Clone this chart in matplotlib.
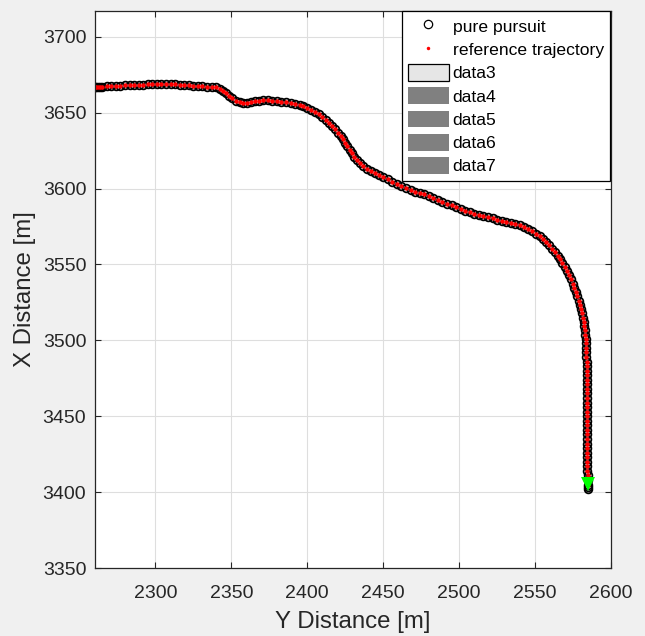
import matplotlib.pyplot as plt
from matplotlib.patches import Patch
from matplotlib.lines import Line2D

# reference trajectory (horizontal axis = Y distance, vertical axis = X distance)
ref_y = [2260.0, 2261.0, 2262.0, 2263.5, 2265.0, 2268.0, 2271.0, 2274.0, 2277.0, 2280.0,
         2283.0, 2286.0, 2289.0, 2292.0, 2295.0, 2298.0, 2301.0, 2304.0, 2307.0, 2310.0,
         2313.0, 2316.0, 2319.0, 2322.0, 2325.0, 2328.0, 2331.0, 2334.0, 2337.0, 2340.0,
         2342.5, 2344.5, 2346.5, 2348.5, 2350.5, 2353.0, 2355.5, 2358.0, 2360.5, 2363.0,
         2365.5, 2368.0, 2371.0, 2374.0, 2377.0, 2380.0, 2383.0, 2386.0, 2389.0, 2392.0,
         2395.0, 2397.5, 2400.0, 2402.5, 2405.0, 2407.5, 2410.0, 2412.5, 2414.5, 2416.5,
         2418.5, 2420.5, 2422.0, 2423.5, 2425.0, 2426.5, 2428.0, 2429.5, 2431.0, 2433.0,
         2435.0, 2437.0, 2439.5, 2442.0, 2444.5, 2447.0, 2450.0, 2453.0, 2456.0, 2459.0,
         2462.0, 2465.0, 2468.0, 2471.0, 2474.0, 2477.0, 2480.0, 2483.0, 2486.0, 2489.0,
         2492.0, 2495.0, 2498.0, 2501.0, 2504.0, 2507.0, 2510.0, 2513.0, 2516.0, 2519.0,
         2522.0, 2525.0, 2528.0, 2531.0, 2534.0, 2537.0, 2540.0, 2543.0, 2545.5, 2548.0,
         2550.5, 2553.0, 2555.0, 2557.0, 2559.0, 2561.0, 2563.0, 2565.0, 2566.5, 2568.0,
         2569.5, 2571.0, 2572.3, 2573.5, 2574.7, 2575.8, 2576.8, 2577.8, 2578.7, 2579.5,
         2580.3, 2581.0, 2581.6, 2582.1, 2582.5, 2582.9, 2583.2, 2583.4, 2583.5, 2583.6,
         2583.7, 2583.8, 2583.9, 2584.0, 2584.0, 2584.0, 2584.0, 2584.1, 2584.1, 2584.1,
         2584.1, 2584.2, 2584.2, 2584.2, 2584.2, 2584.3, 2584.3, 2584.3, 2584.3, 2584.4,
         2584.4, 2584.4, 2584.4, 2584.5, 2584.5, 2584.5, 2584.5, 2584.6, 2584.6, 2584.6]
ref_x = [3667.0, 3667.0, 3667.0, 3667.1, 3667.2, 3667.3, 3667.5, 3667.6, 3667.8, 3668.0,
         3668.1, 3668.3, 3668.4, 3668.5, 3668.6, 3668.7, 3668.8, 3668.8, 3668.8, 3668.7,
         3668.6, 3668.4, 3668.2, 3668.0, 3667.8, 3667.6, 3667.4, 3667.2, 3667.0, 3666.6,
         3665.8, 3664.5, 3662.8, 3661.0, 3659.4, 3658.0, 3657.0, 3656.5, 3656.4, 3656.8,
         3657.4, 3657.9, 3658.1, 3658.1, 3657.9, 3657.6, 3657.3, 3657.0, 3656.6, 3656.0,
         3655.2, 3654.3, 3653.2, 3652.0, 3650.6, 3649.0, 3647.2, 3645.2, 3643.4, 3641.4,
         3639.2, 3636.8, 3634.8, 3632.6, 3630.2, 3627.8, 3625.4, 3623.2, 3621.0, 3618.6,
         3616.6, 3614.8, 3613.0, 3611.4, 3610.0, 3608.8, 3607.4, 3606.0, 3604.6, 3603.2,
         3601.8, 3600.5, 3599.2, 3598.0, 3597.0, 3596.1, 3595.3, 3594.0, 3592.7, 3591.4,
         3590.1, 3588.9, 3587.7, 3586.6, 3585.5, 3584.5, 3583.5, 3582.6, 3581.8, 3581.0,
         3580.3, 3579.6, 3578.9, 3578.2, 3577.5, 3576.7, 3575.8, 3574.6, 3573.4, 3572.0,
         3570.4, 3568.6, 3566.8, 3564.8, 3562.6, 3560.4, 3558.2, 3555.8, 3553.6, 3551.2,
         3548.6, 3545.8, 3543.0, 3540.2, 3537.4, 3534.6, 3531.8, 3529.0, 3526.2, 3523.4,
         3520.6, 3517.8, 3515.0, 3512.2, 3509.4, 3506.6, 3503.8, 3501.0, 3498.0, 3495.0,
         3492.0, 3489.0, 3486.0, 3483.0, 3480.0, 3477.0, 3474.0, 3471.0, 3468.0, 3465.0,
         3462.0, 3459.0, 3456.0, 3453.0, 3450.0, 3447.0, 3444.0, 3441.0, 3438.0, 3435.0,
         3432.0, 3429.0, 3426.0, 3423.0, 3420.0, 3417.0, 3414.0, 3411.0, 3408.0, 3405.0]

# pure pursuit follows the reference and runs slightly past its end
pp_y = ref_y + [2584.6, 2584.6]
pp_x = ref_x + [3403.5, 3402.0]

# goal marker
goal_y = [2584.6]
goal_x = [3405.5]

xticks = [2300, 2350, 2400, 2450, 2500, 2550, 2600]
yticks = [3350, 3400, 3450, 3500, 3550, 3600, 3650, 3700]

plt.rcParams['font.family'] = ['Liberation Sans', 'DejaVu Sans']
txt = '#262626'

fig = plt.figure(figsize=(6.45, 6.36), dpi=100, facecolor='#f0f0f0')
ax = fig.add_axes([0.1467, 0.1069, 0.8006, 0.8758])

ax.plot(pp_y, pp_x, 'o', mfc='none', mec='black', ms=5.6, mew=1.25)
ax.plot(ref_y, ref_x, 'o', color='red', ms=3.2, mew=0)
ax.plot(goal_y, goal_x, 'v', color='#00ff00', ms=10.5, mew=0)

ax.set_xlim(2260, 2600)
ax.set_ylim(3350, 3717)
ax.set_xticks(xticks)
ax.set_yticks(yticks)
ax.grid(True, color='#dedede', linewidth=0.8)
ax.set_axisbelow(True)
ax.tick_params(direction='in', length=4, width=0.8, colors=txt, labelsize=14,
               top=True, right=True)
ax.tick_params(axis='x', pad=12.5)
ax.tick_params(axis='y', pad=6)
for s in ax.spines.values():
    s.set_color(txt)
    s.set_linewidth(0.9)

ax.set_xlabel('Y Distance [m]', fontsize=17.3, color=txt, labelpad=6.5)
ax.set_ylabel('X Distance [m]', fontsize=17.3, color=txt, labelpad=5)

handles = [
    Line2D([], [], linestyle='none', marker='o', mfc='none', mec='black', ms=6, mew=0.9),
    Line2D([], [], linestyle='none', marker='o', color='red', ms=2.5, mew=0),
    Patch(facecolor='#e6e6e6', edgecolor='black', linewidth=0.9),
    Patch(facecolor='#808080', edgecolor='none'),
    Patch(facecolor='#808080', edgecolor='none'),
    Patch(facecolor='#808080', edgecolor='none'),
    Patch(facecolor='#808080', edgecolor='none'),
]
labels = ['pure pursuit', 'reference trajectory', 'data3', 'data4', 'data5', 'data6', 'data7']
leg = ax.legend(handles, labels, loc='upper right', bbox_to_anchor=(0.998, 1.0),
                borderaxespad=0, fontsize=12.6, handlelength=2.35, handleheight=1.1,
                handletextpad=0.2, labelspacing=0.34, borderpad=0.36,
                fancybox=False, framealpha=1, edgecolor='black')
leg.get_frame().set_linewidth(0.9)

fig.savefig('out.png', dpi=100, facecolor=fig.get_facecolor())
